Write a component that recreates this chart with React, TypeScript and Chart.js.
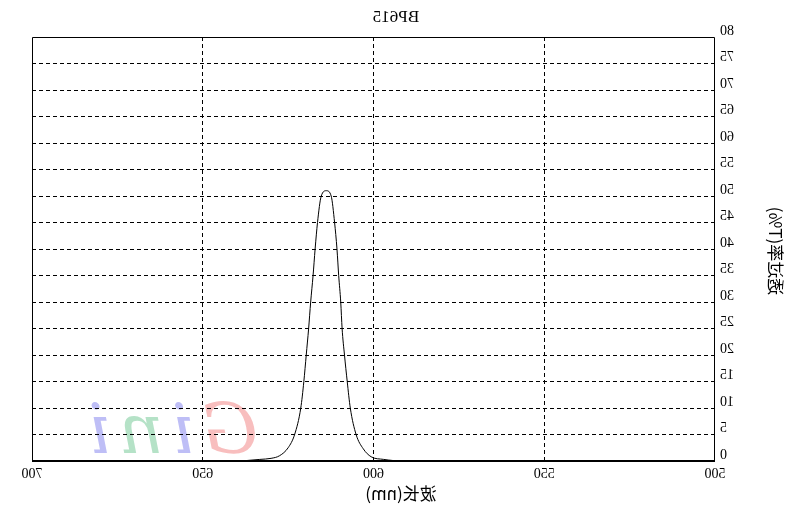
import React, { useEffect, useRef } from "react";
import { Chart, registerables } from "chart.js";

Chart.register(...registerables);

// ---- data ----
const wavelengths = [
  500, 590, 592.6, 594.4, 597, 600.7, 603, 605.1, 606.8, 607.7, 608.5, 609.2, 609.6,
  610.2, 610.7, 611.4, 612.4, 613.8, 615.3, 616.4, 617.1, 617.7, 618.4, 619.0, 619.7,
  620.4, 621.3, 623.1, 625, 627.5, 630, 633.3, 637, 640, 700,
];
const transmittance = [
  0, 0, 0, 0.1, 0.3, 0.8, 2.3, 5, 10, 15, 20, 25, 30,
  35, 40, 45, 50, 51, 50, 45, 40, 35, 30, 25, 20,
  15, 10, 5, 2.5, 1, 0.5, 0.3, 0.1, 0, 0,
];
const xTickValues = [500, 550, 600, 650, 700];
const yTickValues = [0, 5, 10, 15, 20, 25, 30, 35, 40, 45, 50, 55, 60, 65, 70, 75, 80];
const titleText = "BP615";
const xTitleText = "波长(nm)";
const yTitleText = "透过率(T%)";
const watermarkLetters = ["G", "i", "n", "i"];
const watermarkColors = [
  "rgba(240,110,110,0.45)",
  "rgba(110,110,235,0.45)",
  "rgba(90,190,130,0.45)",
  "rgba(110,110,235,0.45)",
];

const SERIF = "'Liberation Serif', 'DejaVu Serif', serif";
const CJK = "'Noto Sans CJK SC', 'Liberation Serif', serif";

const decorPlugin = {
  id: "decor",
  beforeDraw(chart: any) {
    const { ctx, chartArea } = chart;
    ctx.save();
    ctx.font = "italic 70px 'DejaVu Serif', serif";
    ctx.textBaseline = "alphabetic";
    let x = chartArea.right - 226;
    const y = chartArea.bottom - 8;
    watermarkLetters.forEach((l, i) => {
      ctx.fillStyle = watermarkColors[i];
      ctx.fillText(l, x, y);
      x += ctx.measureText(l).width + 8;
    });
    ctx.restore();
  },
  afterDraw(chart: any) {
    const { ctx, chartArea, width } = chart;
    ctx.save();
    // frame
    ctx.strokeStyle = "#000";
    ctx.lineWidth = 1;
    ctx.beginPath();
    ctx.moveTo(chartArea.left + 0.5, chartArea.bottom);
    ctx.lineTo(chartArea.left + 0.5, chartArea.top + 0.5);
    ctx.lineTo(chartArea.right - 0.5, chartArea.top + 0.5);
    ctx.lineTo(chartArea.right - 0.5, chartArea.bottom);
    ctx.stroke();
    ctx.lineWidth = 2;
    ctx.beginPath();
    ctx.moveTo(chartArea.left, chartArea.bottom);
    ctx.lineTo(chartArea.right, chartArea.bottom);
    ctx.stroke();

    ctx.fillStyle = "#000";
    ctx.textAlign = "center";
    ctx.textBaseline = "middle";
    // title
    ctx.font = `17px ${SERIF}`;
    ctx.fillText(titleText, width / 2, 18);
    // x title
    ctx.font = `17px ${CJK}`;
    ctx.fillText(xTitleText, width / 2 - 5, 494);
    // y title
    ctx.translate(17, 251);
    ctx.rotate(-Math.PI / 2);
    ctx.fillText(yTitleText, 0, 0);
    ctx.restore();
  },
};

export default function App() {
  const ref = useRef<HTMLCanvasElement | null>(null);

  useEffect(() => {
    if (!ref.current) return;
    const data = wavelengths.map((w, i) => ({ x: w, y: transmittance[i] }));
    const edgeTransparent = (min: number, max: number) => (c: any) =>
      c.tick && (c.tick.value === min || c.tick.value === max) ? "rgba(0,0,0,0)" : "#000";

    const chart = new Chart(ref.current, {
      type: "line",
      data: {
        datasets: [
          {
            data,
            borderColor: "#000",
            borderWidth: 1,
            pointRadius: 0,
            fill: false,
            cubicInterpolationMode: "monotone",
          },
        ],
      },
      options: {
        responsive: false,
        animation: false,
        devicePixelRatio: 1,
        layout: { padding: { top: 37, right: 32, left: 0, bottom: 0 } },
        plugins: {
          legend: { display: false },
          title: { display: false },
          tooltip: { enabled: false },
        },
        scales: {
          x: {
            type: "linear",
            min: 500,
            max: 700,
            afterFit: (s: any) => {
              s.height = 46;
            },
            afterBuildTicks: (s: any) => {
              s.ticks = xTickValues.map((v) => ({ value: v }));
            },
            ticks: {
              color: "#000",
              padding: 5,
              maxRotation: 0,
              font: { family: SERIF, size: 14 },
            },
            grid: {
              color: edgeTransparent(500, 700),
              lineWidth: 1,
              drawTicks: false,
            },
            border: { display: false, dash: [4, 3] },
          },
          y: {
            type: "linear",
            min: 0,
            max: 80,
            afterFit: (s: any) => {
              s.width = 77;
            },
            afterBuildTicks: (s: any) => {
              s.ticks = yTickValues.map((v) => ({ value: v }));
            },
            ticks: {
              color: "#000",
              padding: 5,
              labelOffset: -6,
              font: { family: SERIF, size: 14 },
            },
            grid: {
              color: edgeTransparent(0, 80),
              lineWidth: 1,
              drawTicks: false,
            },
            border: { display: false, dash: [4, 3] },
          },
        },
      },
      plugins: [decorPlugin],
    } as any);
    return () => chart.destroy();
  }, []);

  return (
    <div style={{ position: "fixed", left: 0, top: 0, width: 792, height: 507, background: "#fff" }}>
      <canvas
        ref={ref}
        width={792}
        height={507}
        style={{ display: "block", width: 792, height: 507, transform: "scaleX(-1)" }}
      />
    </div>
  );
}
